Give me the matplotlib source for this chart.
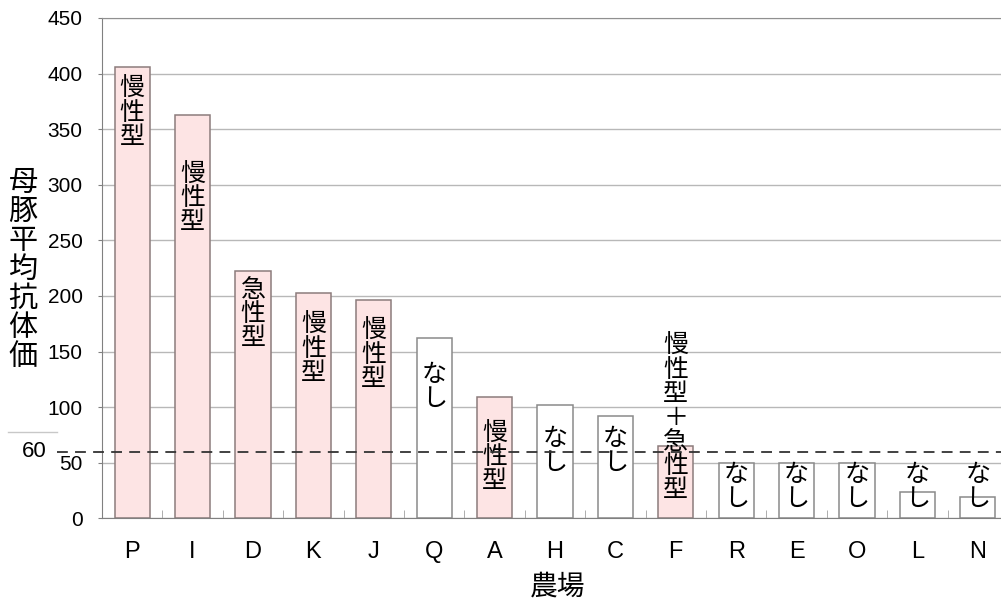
import numpy as np
import matplotlib.pyplot as plt
from matplotlib.lines import Line2D
from matplotlib.transforms import blended_transform_factory

plt.rcParams['font.family'] = ['Liberation Sans', 'Noto Sans CJK JP', 'DejaVu Sans']

farms = ['P', 'I', 'D', 'K', 'J', 'Q', 'A', 'H', 'C', 'F', 'R', 'E', 'O', 'L', 'N']
titers = [406, 363, 222, 203, 196, 162, 109, 102, 92, 65, 50, 50, 50, 24, 19]
types = ['慢性型', '慢性型', '急性型', '慢性型', '慢性型', 'なし', '慢性型', 'なし', 'なし',
         '慢性型＋急性型', 'なし', 'なし', 'なし', 'なし', 'なし']
threshold = 60

# where each vertical label starts (top of text, in axis units)
label_top = [398, 321, 217, 186, 180, 141, 88, 83, 83, 167, 51, 51, 51, 51, 51]

W, H = 1001, 602
fig = plt.figure(figsize=(W / 100, H / 100), dpi=100)
ax = fig.add_axes([102 / W, 1 - 518.3 / H, 906 / W, 500.3 / H])

x = np.arange(len(farms))
fills = ['white' if t == 'なし' else '#fde4e4' for t in types]
edges = ['#8a8a8a' if t == 'なし' else '#8c7c7c' for t in types]
ax.bar(x, titers, width=0.585, color=fills, edgecolor=edges, linewidth=1.1, zorder=2)

ax.set_xlim(-0.5, len(farms) - 0.5)
ax.set_ylim(0, 450)
ax.set_yticks(np.arange(0, 451, 50))
ax.yaxis.grid(True, color='#b8b8b8', linewidth=1.0, zorder=0)
ax.set_axisbelow(True)

ax.set_xticks(x)
ax.set_xticklabels(farms, fontsize=17)
ax.set_xticks(np.arange(0.5, len(farms) - 0.5), minor=True)
ax.tick_params(axis='x', which='major', length=0, pad=16)
ax.tick_params(axis='x', which='minor', direction='in', length=6, color='#a0a0a0')
ax.tick_params(axis='y', length=3, color='#808080', pad=11, labelsize=15)

for s in ['left', 'bottom']:
    ax.spines[s].set_color('#808080')
ax.spines['top'].set_color('#909090')
ax.spines['right'].set_visible(False)

for xi, t, top in zip(x, types, label_top):
    ax.text(xi, top, '\n'.join(t), ha='center', va='top', fontsize=18,
            family=['Noto Sans CJK JP'], linespacing=0.9, zorder=4)

# threshold line, running out past the y axis
trans = blended_transform_factory(fig.transFigure, ax.transData)
fig.add_artist(Line2D([57 / W, 1.0], [threshold, threshold], transform=trans,
                      color='#333333', linewidth=1.3, dashes=(6, 4), zorder=3))
fig.text(34 / W, threshold, str(threshold), transform=trans, ha='center', va='center',
         fontsize=16)
fig.add_artist(Line2D([8 / W, 57 / W], [1 - 431.7 / H] * 2, color='#c8c8c8', linewidth=1.0))

fig.text(23 / W, 1 - 270 / H, '\n'.join('母豚平均抗体価'), ha='center', va='center',
         fontsize=21, family=['Noto Sans CJK JP'], linespacing=0.95)
fig.text(558 / W, 1 - 587 / H, '農場', ha='center', va='center',
         fontsize=20, family=['Noto Sans CJK JP'])

fig.savefig('out.png', dpi=100)
